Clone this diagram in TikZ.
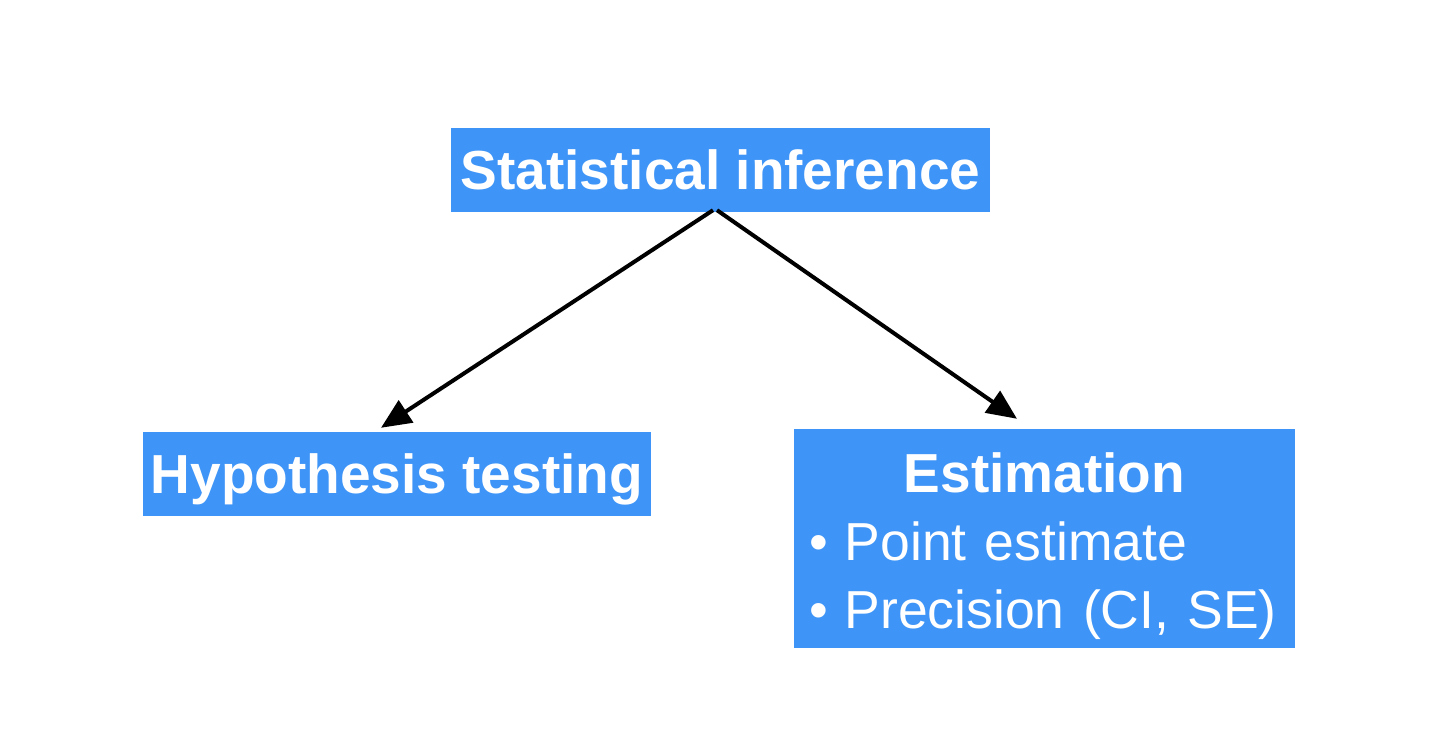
\documentclass[tikz,border=0pt]{standalone}
\usepackage{fontspec}
\setmainfont{Liberation Sans}
\usetikzlibrary{arrows.meta}
\definecolor{boxblue}{HTML}{3F95F7}
\tikzstyle{blk}=[fill=boxblue,text=white,inner sep=0pt,font=\fontsize{55}{68}\selectfont\bfseries]
\tikzstyle{one}=[blk,text height=39pt,text depth=0pt,minimum height=84pt]
\tikzstyle{arr}=[line width=4pt,-{Triangle[length=30pt,width=26pt]}]
\newcommand{\itm}{\fontsize{53.5}{68}\selectfont\mdseries}

\begin{document}
\begin{tikzpicture}[x=1pt,y=1pt]
    \useasboundingbox (0,0) rectangle (1437,733);
    \node[one,minimum width=539pt] (inf) at (720.5,563) {Statistical inference};
    \node[one,minimum width=508pt] (hyp) at (397,259) {Hypothesis testing};
    \node[blk,minimum width=501pt,minimum height=219pt,text width=471pt,align=left,text height=39pt,text depth=130pt] (est) at (1044.5,194.5)
        {\makebox[\linewidth]{Estimation}\\ \itm\mbox{•\hspace{17pt}Point estimate}\\ \itm\mbox{•\hspace{17pt}Precision (CI, SE)}};
    \draw[arr] ([xshift=-7.5pt,yshift=2pt]inf.south) -- ([xshift=-16pt,yshift=4pt]hyp.north);
    \draw[arr] ([xshift=-3.5pt,yshift=2pt]inf.south) -- ([xshift=-27.5pt,yshift=10pt]est.north);
\end{tikzpicture}
\end{document}
